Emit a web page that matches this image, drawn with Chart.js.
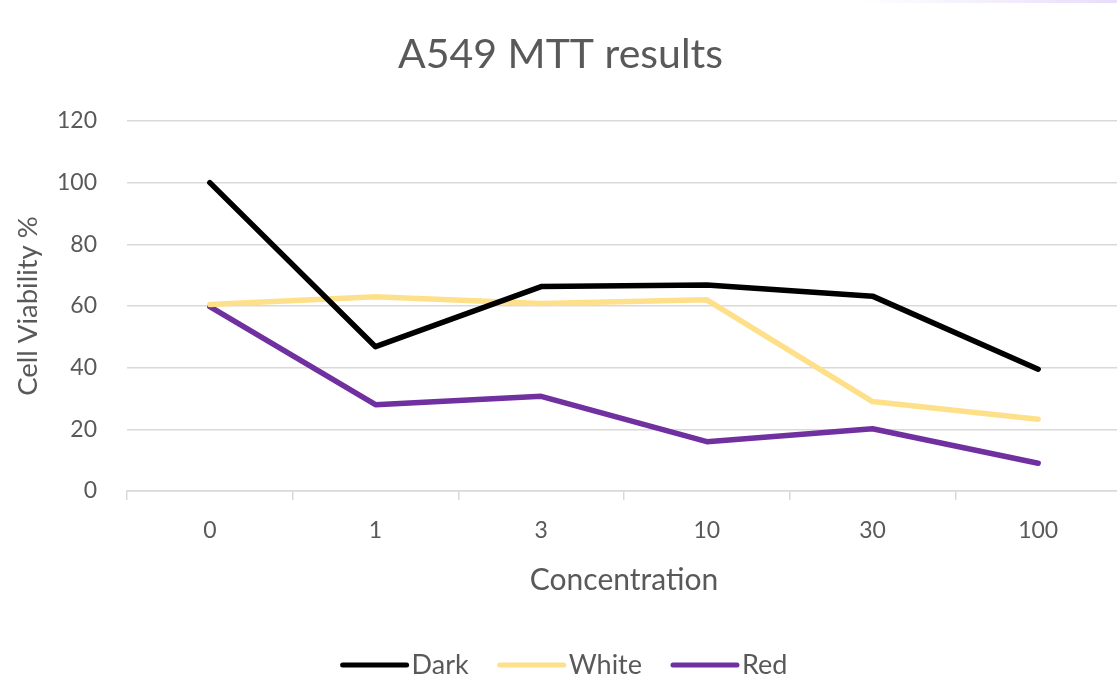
<!DOCTYPE html>
<html>
<head>
<meta charset="utf-8">
<script src="https://cdn.jsdelivr.net/npm/chart.js@4.4.1/dist/chart.umd.min.js"></script>
<style>
  html, body { margin: 0; padding: 0; background: #ffffff; overflow: hidden; }
  #wrap { position: relative; width: 1117px; height: 679px; overflow: hidden; }
  #glow { position: absolute; top: 0; right: 0; width: 260px; height: 3px; z-index: 2;
          background: linear-gradient(to right, rgba(236,228,250,0), #e8ddfa); }
  canvas { display: block; }
</style>
</head>
<body>
<div id="wrap">
  <div id="glow"></div>
  <canvas id="chart" width="1121" height="679"></canvas>
</div>
<script>
// Concentrations tested (x categories)
const concentrations = ['0', '1', '3', '10', '30', '100'];

// Cell viability (%) per light condition
const darkValues  = [100, 46.8, 66.3, 66.8, 63.2, 39.5];
const whiteValues = [60.5, 63.0, 60.8, 62.0, 29.0, 23.3];
const redValues   = [59.8, 28.0, 30.7, 16.0, 20.2, 9.0];

// Value axis range
const yMin = 0;
const yMax = 120;
const yStep = 20;

const TEXT = '#595959';
const GRID = '#d9d9d9';
const FONT = 'Lato, "Open Sans", sans-serif';

// Legend drawn as long line swatches followed by the series name
const lineLegend = {
  id: 'lineLegend',
  afterDraw(chart) {
    const ctx = chart.ctx;
    ctx.save();
    ctx.font = '27px ' + FONT;
    const swatch = 68, gap = 3, sep = 29;
    const items = chart.data.datasets.map(d => ({
      label: d.label, color: d.borderColor, w: ctx.measureText(d.label).width
    }));
    const total = items.reduce((s, it) => s + swatch + gap + it.w, 0) + sep * (items.length - 1);
    let x = chart.width / 2 + 3.5 - total / 2;
    const y = 665;
    ctx.textBaseline = 'middle';
    ctx.textAlign = 'left';
    items.forEach(it => {
      ctx.strokeStyle = it.color;
      ctx.lineWidth = 5;
      ctx.lineCap = 'round';
      ctx.beginPath();
      ctx.moveTo(x + 2, y);
      ctx.lineTo(x + swatch - 2, y);
      ctx.stroke();
      ctx.fillStyle = TEXT;
      ctx.fillText(it.label, x + swatch + gap, y);
      x += swatch + gap + it.w + sep;
    });
    ctx.restore();
  }
};

new Chart(document.getElementById('chart'), {
  type: 'line',
  data: {
    labels: concentrations,
    datasets: [
      { label: 'Dark',  data: darkValues,  borderColor: '#000000' },
      { label: 'White', data: whiteValues, borderColor: '#ffe08a' },
      { label: 'Red',   data: redValues,   borderColor: '#7030a0' }
    ]
  },
  options: {
    responsive: false,
    animation: false,
    devicePixelRatio: 1,
    elements: {
      line: { borderWidth: 5.5, tension: 0, borderCapStyle: 'round', borderJoinStyle: 'round' },
      point: { radius: 0, hoverRadius: 0 }
    },
    layout: { padding: { left: 0, right: 0, top: 0, bottom: 70 } },
    plugins: {
      legend: { display: false },
      tooltip: { enabled: false },
      title: {
        display: true,
        text: 'A549 MTT results',
        color: TEXT,
        font: { family: FONT, size: 41, weight: 'normal' },
        padding: { top: 30.4, bottom: 41.4 }
      }
    },
    scales: {
      x: {
        offset: true,
        grid: { display: true, drawOnChartArea: false, drawTicks: true, tickLength: 9, color: GRID, lineWidth: 1.5, offset: true },
        border: { display: true, color: GRID, width: 1.5 },
        ticks: { color: TEXT, font: { family: FONT, size: 23 }, padding: 17, maxRotation: 0 },
        title: { display: true, text: 'Concentration', color: TEXT, font: { family: FONT, size: 30 }, padding: { top: 0, bottom: 11 } },
        afterFit(scale) { scale.height = 118; }
      },
      y: {
        min: yMin,
        max: yMax,
        grid: { color: GRID, lineWidth: 1.5, drawTicks: false },
        border: { display: false },
        ticks: { stepSize: yStep, color: TEXT, font: { family: FONT, size: 23 }, padding: 30 },
        title: { display: true, text: 'Cell Viability %', color: TEXT, font: { family: FONT, size: 27.5 }, padding: { top: 11.5, bottom: 0 } },
        afterFit(scale) { scale.width = 127; }
      }
    }
  },
  plugins: [lineLegend]
});
</script>
</body>
</html>
